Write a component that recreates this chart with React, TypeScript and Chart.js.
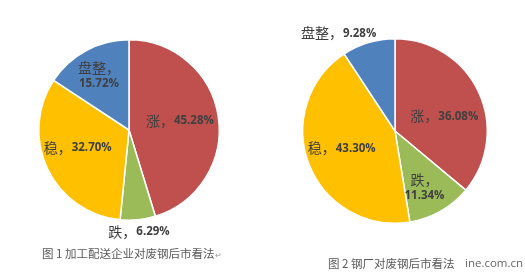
import React, { useEffect, useRef } from "react";
import { Chart, registerables } from "chart.js";

Chart.register(...registerables);

// ---- data ----
const categories = ["涨", "跌", "稳", "盘整"];
const chart1Values = [45.28, 6.29, 32.7, 15.72];
const chart2Values = [36.08, 11.34, 43.3, 9.28];
const chart1Caption = "图 1 加工配送企业对废钢后市看法";
const chart2Caption = "图 2 钢厂对废钢后市看法";
const watermark = "ine.com.cn";

// ---- style ----
const colors = ["#C0504D", "#9BBB59", "#FFC000", "#4F81BD"];
const labelColor = "#404040";
const cjkFont = '14px "Noto Sans CJK SC"';
const numFont = 'bold 11.5px "Open Sans", "Noto Sans CJK SC"';

type LabelStyle = { r: number; dx: number; dy: number; twoLine: boolean };

const labelStyles1: LabelStyle[] = [
  { r: 0.57, dx: 0, dy: -2, twoLine: false },
  { r: 1.13, dx: 0, dy: 0, twoLine: false },
  { r: 0.63, dx: 0, dy: -7, twoLine: false },
  { r: 0.68, dx: -1, dy: 0, twoLine: true },
];
const labelStyles2: LabelStyle[] = [
  { r: 0.59, dx: 0, dy: 8, twoLine: false },
  { r: 0.71, dx: -3, dy: 0, twoLine: true },
  { r: 0.62, dx: 0, dy: -4, twoLine: false },
  { r: 1.11, dx: -27, dy: 0, twoLine: false },
];

function fmt(v: number) {
  return v.toFixed(2) + "%";
}

function makeLabelPlugin(styles: LabelStyle[]) {
  return {
    id: "sliceLabels",
    afterDatasetsDraw(chart: any) {
      const ctx = chart.ctx as CanvasRenderingContext2D;
      const meta = chart.getDatasetMeta(0);
      const values = chart.data.datasets[0].data as number[];
      ctx.save();
      ctx.fillStyle = labelColor;
      ctx.textBaseline = "middle";
      ctx.textAlign = "left";
      meta.data.forEach((arc: any, i: number) => {
        const p = arc.getProps(["x", "y", "startAngle", "endAngle", "outerRadius"], true);
        const mid = (p.startAngle + p.endAngle) / 2;
        const st = styles[i];
        const cx = p.x + Math.cos(mid) * p.outerRadius * st.r + st.dx;
        const cy = p.y + Math.sin(mid) * p.outerRadius * st.r + st.dy;
        const name = categories[i] + "，";
        const num = fmt(values[i]);
        ctx.font = cjkFont;
        const wName = ctx.measureText(name).width;
        ctx.font = numFont;
        const wNum = ctx.measureText(num).width;
        if (st.twoLine) {
          ctx.font = cjkFont;
          ctx.fillText(name, cx - wName / 2, cy - 8);
          ctx.font = numFont;
          ctx.fillText(num, cx - wNum / 2, cy + 8);
        } else {
          const x0 = cx - (wName + wNum) / 2;
          ctx.font = cjkFont;
          ctx.fillText(name, x0, cy);
          ctx.font = numFont;
          ctx.fillText(num, x0 + wName, cy + 0.5);
        }
      });
      ctx.restore();
    },
  };
}

function PieChart(props: {
  values: number[];
  styles: LabelStyle[];
  width: number;
  height: number;
  padding: { left: number; right: number; top: number; bottom: number };
}) {
  const ref = useRef<HTMLCanvasElement>(null);
  useEffect(() => {
    if (!ref.current) return;
    const chart = new Chart(ref.current, {
      type: "pie",
      data: {
        labels: categories,
        datasets: [
          {
            data: props.values,
            backgroundColor: colors,
            borderColor: "#FFFFFF",
            borderWidth: 1.5,
          },
        ],
      },
      options: {
        animation: false,
        responsive: false,
        devicePixelRatio: 1,
        layout: { padding: props.padding },
        plugins: {
          legend: { display: false },
          tooltip: { enabled: false },
        },
      },
      plugins: [makeLabelPlugin(props.styles)],
    });
    return () => chart.destroy();
  }, []);
  return (
    <canvas
      ref={ref}
      width={props.width}
      height={props.height}
      style={{ width: props.width, height: props.height, display: "block" }}
    />
  );
}

const captionStyle: React.CSSProperties = {
  position: "absolute",
  fontFamily: '"Noto Sans CJK SC", sans-serif',
  fontSize: 11.5,
  lineHeight: "14px",
  color: "#595959",
  whiteSpace: "nowrap",
};

export default function App() {
  return (
    <div
      style={{
        position: "absolute",
        left: 0,
        top: 0,
        width: 525,
        height: 273,
        background: "#FFFFFF",
        overflow: "hidden",
      }}
    >
      <div style={{ position: "absolute", left: 0, top: 0 }}>
        <PieChart
          values={chart1Values}
          styles={labelStyles1}
          width={262}
          height={273}
          padding={{ left: 38, right: 42, top: 39, bottom: 52 }}
        />
      </div>
      <div style={{ position: "absolute", left: 262, top: 0 }}>
        <PieChart
          values={chart2Values}
          styles={labelStyles2}
          width={263}
          height={273}
          padding={{ left: 40, right: 37, top: 38, bottom: 49 }}
        />
      </div>
      <div style={{ ...captionStyle, left: 42, top: 246 }}>
        {chart1Caption}
        <span style={{ fontSize: 8, color: "#999" }}>↵</span>
      </div>
      <div style={{ ...captionStyle, left: 328, top: 256 }}>{chart2Caption}</div>
      <div
        style={{
          ...captionStyle,
          left: 465,
          top: 256,
          fontFamily: '"Open Sans", sans-serif',
          fontSize: 11.5,
          color: "#666",
        }}
      >
        {watermark}
      </div>
    </div>
  );
}
